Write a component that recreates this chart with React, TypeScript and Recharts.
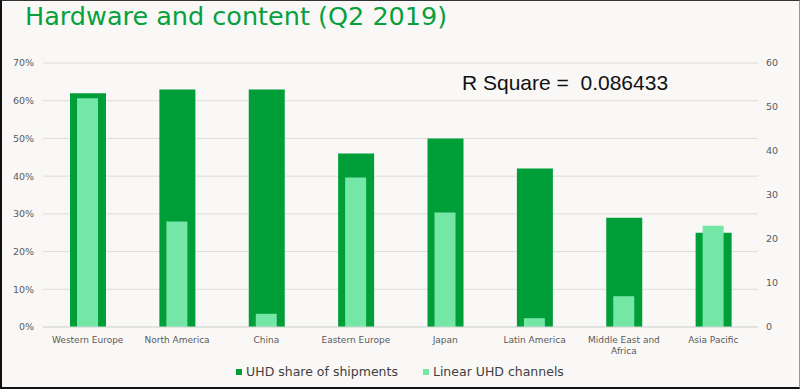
import { BarChart, Bar, XAxis, YAxis, CartesianGrid } from "recharts";

const regions = [
  "Western Europe",
  "North America",
  "China",
  "Eastern Europe",
  "Japan",
  "Latin America",
  "Middle East and Africa",
  "Asia Pacific",
];
// UHD share of shipments, % (left axis)
const uhdShare = [62, 63, 63, 46, 50, 42, 29, 25];
// Linear UHD channels, count (right axis)
const linearChannels = [52, 24, 3, 34, 26, 2, 7, 23];

const leftTicks = [0, 10, 20, 30, 40, 50, 60, 70];
const rightTicks = [0, 10, 20, 30, 40, 50, 60];

const DARK = "#009E38";
const LIGHT = "#74E6A6";
const FONT = "'DejaVu Sans', Verdana, sans-serif";

const data = regions.map((region, i) => ({
  region,
  share: uhdShare[i],
  channels: linearChannels[i],
}));

// greedy word wrap, ~16 chars per line
function wrap(label: string, max = 16): string[] {
  const lines: string[] = [];
  let cur = "";
  for (const w of label.split(" ")) {
    const next = cur ? cur + " " + w : w;
    if (next.length > max && cur) {
      lines.push(cur);
      cur = w;
    } else {
      cur = next;
    }
  }
  if (cur) lines.push(cur);
  return lines;
}

function RegionTick(props: any) {
  const { x, y, payload } = props;
  const lines = wrap(String(payload.value));
  return (
    <text
      x={x}
      y={y + 8}
      textAnchor="middle"
      fontSize={9}
      fontFamily={FONT}
      fill="#595959"
    >
      {lines.map((l, i) => (
        <tspan key={i} x={x} dy={i === 0 ? 0 : 11}>
          {l}
        </tspan>
      ))}
    </text>
  );
}

export default function App() {
  return (
    <div
      style={{
        position: "absolute",
        left: 0,
        top: 0,
        width: 800,
        height: 389,
        background: "#F9F8F6",
        overflow: "hidden",
        fontFamily: FONT,
      }}
    >
      <div
        style={{
          position: "absolute",
          left: 25,
          top: 1,
          fontSize: 25.5,
          lineHeight: "30px",
          color: "#08A03C",
          whiteSpace: "nowrap",
        }}
      >
        Hardware and content (Q2 2019)
      </div>

      <div style={{ position: "absolute", left: 0, top: 0 }}>
        <BarChart
          width={800}
          height={389}
          data={data}
          margin={{ top: 63, right: 12, bottom: 32, left: 13 }}
        >
          <CartesianGrid
            vertical={false}
            stroke="#DCDCDC"
            yAxisId="left"
            xAxisId="a"
          />
          <XAxis
            xAxisId="a"
            dataKey="region"
            height={30}
            interval={0}
            tickLine={false}
            axisLine={{ stroke: "#D9D9D9" }}
            tick={<RegionTick />}
          />
          <XAxis xAxisId="b" dataKey="region" hide />
          <YAxis
            yAxisId="left"
            width={30}
            domain={[0, 70]}
            ticks={leftTicks}
            tickFormatter={(v) => `${v}%`}
            axisLine={false}
            tickLine={false}
            tickSize={0}
            tickMargin={9}
            tick={{ fontSize: 9.5, fill: "#595959", fontFamily: FONT }}
          />
          <YAxis
            yAxisId="right"
            orientation="right"
            width={30}
            domain={[0, 60]}
            ticks={rightTicks}
            axisLine={false}
            tickLine={false}
            tickSize={0}
            tickMargin={8}
            tick={{ fontSize: 9.5, fill: "#595959", fontFamily: FONT }}
          />
          <Bar
            dataKey="share"
            xAxisId="a"
            yAxisId="left"
            fill={DARK}
            barSize={36}
            isAnimationActive={false}
          />
          <Bar
            dataKey="channels"
            xAxisId="b"
            yAxisId="right"
            fill={LIGHT}
            barSize={21}
            isAnimationActive={false}
          />
        </BarChart>
      </div>

      <div
        style={{
          position: "absolute",
          left: 462,
          top: 72,
          fontSize: 21,
          lineHeight: "21px",
          fontFamily: "'Liberation Sans', Arial, sans-serif",
          color: "#111",
          whiteSpace: "pre",
        }}
      >
        R Square =  0.086433
      </div>

      {/* legend */}
      <div
        style={{
          position: "absolute",
          left: 0,
          top: 362,
          width: 800,
          display: "flex",
          justifyContent: "center",
          gap: 25,
          fontSize: 12.5,
          lineHeight: "20px",
          color: "#404040",
        }}
      >
        {[
          { label: "UHD share of shipments", color: DARK },
          { label: "Linear UHD channels", color: LIGHT },
        ].map((item) => (
          <span key={item.label} style={{ display: "inline-flex", alignItems: "center", gap: 4 }}>
            <span style={{ display: "inline-block", width: 6, height: 6, background: item.color }} />
            {item.label}
          </span>
        ))}
      </div>

      <div
        style={{
          position: "absolute",
          left: 0,
          top: 0,
          width: 800,
          height: 389,
          boxSizing: "border-box",
          borderLeft: "2px solid #111",
          borderBottom: "2px solid #111",
          borderTop: "1px solid #333",
          borderRight: "1px solid #999",
          pointerEvents: "none",
        }}
      />
    </div>
  );
}
